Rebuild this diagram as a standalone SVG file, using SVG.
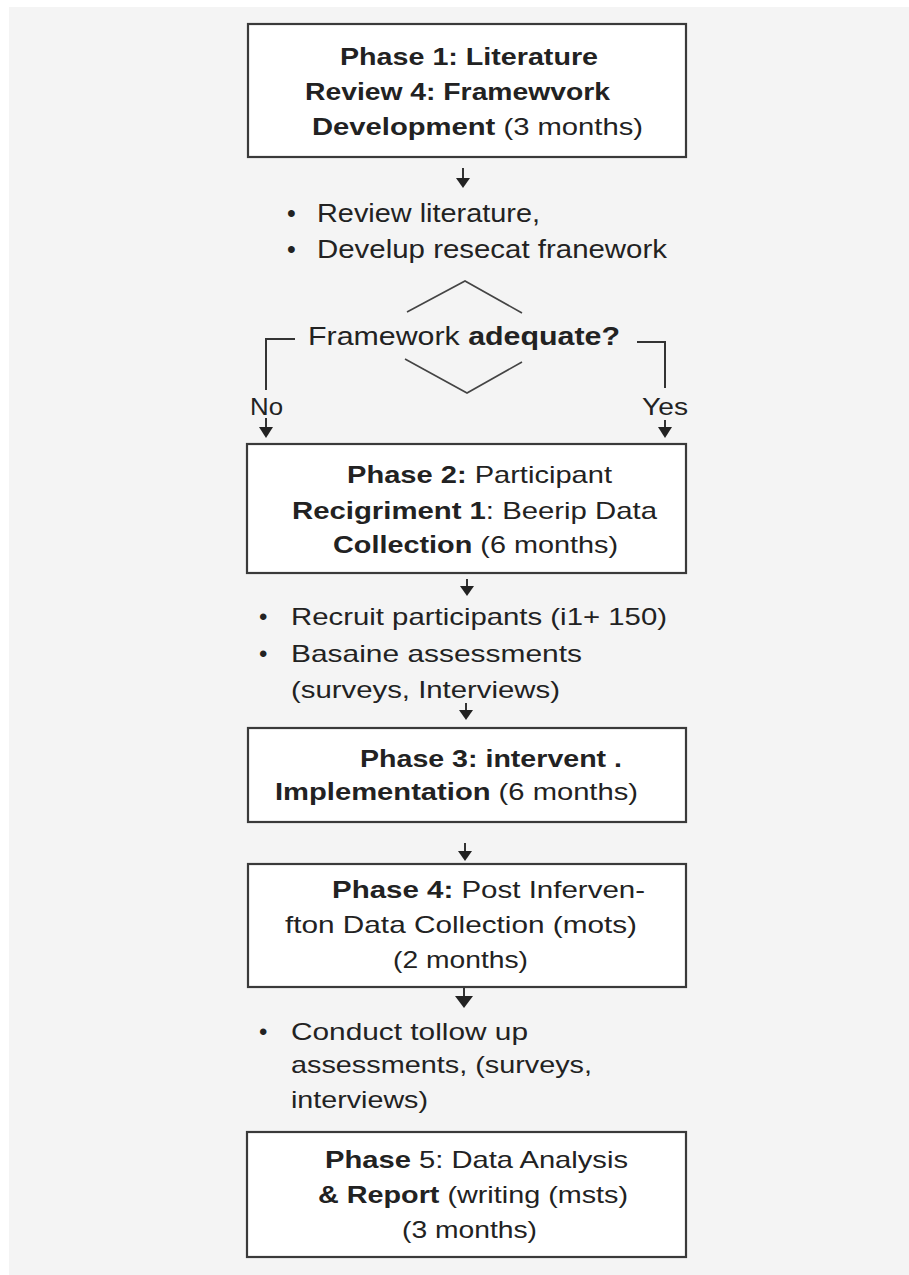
<svg xmlns="http://www.w3.org/2000/svg" width="909" height="1275" viewBox="0 0 909 1275">
<style>
text{font-family:"Liberation Sans",Arial,sans-serif;fill:#222;}
.t{font-size:24px;}
.b{font-weight:bold;}
.box{fill:#fff;stroke:#3a3a3a;stroke-width:2.2;}
.ln{fill:none;stroke:#333;stroke-width:2;}
.dm{fill:none;stroke:#444;stroke-width:1.6;}
.ah{fill:#222;}
</style>
<rect x="0" y="0" width="909" height="1275" fill="#ffffff"/>
<rect x="9" y="7" width="900" height="1268" fill="#f4f4f4"/>

<g id="connectors">
<path class="ln" d="M463,168 V180"/><path class="ah" d="M456,178 L470,178 L463,188 Z"/>
<path class="ln" d="M295,339 H266 V390"/>
<path class="ln" d="M266,418 V430"/><path class="ah" d="M259,427 L273,427 L266,438 Z"/>
<path class="ln" d="M637,342 H665 V388"/>
<path class="ln" d="M665,420 V430"/><path class="ah" d="M658,427 L672,427 L665,438 Z"/>
<path class="ln" d="M467,579 V588"/><path class="ah" d="M460,586 L474,586 L467,596 Z"/>
<path class="ln" d="M466,703 V712"/><path class="ah" d="M459,710 L473,710 L466,720 Z"/>
<path class="ln" d="M465,843 V853"/><path class="ah" d="M458,851 L472,851 L465,861 Z"/>
<path class="ln" d="M464,988 V998"/><path class="ah" d="M455,996 L473,996 L464,1008 Z"/>
</g>

<g id="phase1">
<rect class="box" x="248" y="24" width="438" height="133"/>
<text class="t b" x="340" y="65" textLength="258" lengthAdjust="spacingAndGlyphs">Phase 1: Literature</text>
<text class="t b" x="305" y="100" textLength="305" lengthAdjust="spacingAndGlyphs">Review 4: Framewvork</text>
<text class="t" x="312" y="135" textLength="331" lengthAdjust="spacingAndGlyphs"><tspan class="b">Development</tspan> (3 months)</text>
</g>

<g id="bullets1">
<text style="font-size:25px" x="287" y="222">•</text>
<text style="font-size:25px" x="317" y="222" textLength="223" lengthAdjust="spacingAndGlyphs">Review literature,</text>
<text style="font-size:25px" x="287" y="258">•</text>
<text style="font-size:25px" x="317" y="258" textLength="350" lengthAdjust="spacingAndGlyphs">Develup resecat franework</text>
</g>

<g id="decision">
<path class="dm" d="M407,312 L465,281 L522,313"/>
<path class="dm" d="M405,359 L467,393 L522,362"/>
<text style="font-size:25px" x="308" y="345" textLength="312" lengthAdjust="spacingAndGlyphs">Framework <tspan class="b">adequate?</tspan></text>
<text style="font-size:23px" x="250" y="415" textLength="33" lengthAdjust="spacingAndGlyphs">No</text>
<text style="font-size:23px" x="642" y="415" textLength="46" lengthAdjust="spacingAndGlyphs">Yes</text>
</g>

<g id="phase2">
<rect class="box" x="247" y="444" width="439" height="129"/>
<text class="t" x="347" y="483" textLength="265" lengthAdjust="spacingAndGlyphs"><tspan class="b">Phase 2:</tspan> Participant</text>
<text class="t" x="292" y="519" textLength="365" lengthAdjust="spacingAndGlyphs"><tspan class="b">Recigriment 1</tspan>: Beerip Data</text>
<text class="t" x="333" y="553" textLength="285" lengthAdjust="spacingAndGlyphs"><tspan class="b">Collection</tspan> (6 months)</text>
</g>

<g id="bullets2">
<text class="t" x="259" y="625">•</text>
<text class="t" x="291" y="625" textLength="376" lengthAdjust="spacingAndGlyphs">Recruit participants (i1+ 150)</text>
<text class="t" x="259" y="662">•</text>
<text class="t" x="291" y="662" textLength="291" lengthAdjust="spacingAndGlyphs">Basaine assessments</text>
<text class="t" x="291" y="698" textLength="269" lengthAdjust="spacingAndGlyphs">(surveys, Interviews)</text>
</g>

<g id="phase3">
<rect class="box" x="248" y="728" width="438" height="94"/>
<text class="t b" x="360" y="767" textLength="262" lengthAdjust="spacingAndGlyphs">Phase 3: intervent .</text>
<text class="t" x="275" y="800" textLength="363" lengthAdjust="spacingAndGlyphs"><tspan class="b">Implementation</tspan>  (6 months)</text>
</g>

<g id="phase4">
<rect class="box" x="248" y="864" width="438" height="123"/>
<text class="t" x="332" y="898" textLength="313" lengthAdjust="spacingAndGlyphs"><tspan class="b">Phase 4:</tspan> Post Inferven-</text>
<text class="t" x="285" y="933" textLength="352" lengthAdjust="spacingAndGlyphs">fton Data Collection (mots)</text>
<text class="t" x="393" y="968" textLength="135" lengthAdjust="spacingAndGlyphs">(2 months)</text>
</g>

<g id="bullets3">
<text class="t" x="259" y="1040">•</text>
<text class="t" x="291" y="1040" textLength="237" lengthAdjust="spacingAndGlyphs">Conduct tollow up</text>
<text class="t" x="291" y="1073" textLength="301" lengthAdjust="spacingAndGlyphs">assessments, (surveys,</text>
<text class="t" x="291" y="1108" textLength="137" lengthAdjust="spacingAndGlyphs">interviews)</text>
</g>

<g id="phase5">
<rect class="box" x="247" y="1132" width="439" height="125"/>
<text class="t" x="325" y="1168" textLength="303" lengthAdjust="spacingAndGlyphs"><tspan class="b">Phase</tspan> 5: Data Analysis</text>
<text class="t" x="318" y="1203" textLength="310" lengthAdjust="spacingAndGlyphs"><tspan class="b">&amp; Report</tspan> (writing (msts)</text>
<text class="t" x="402" y="1238" textLength="135" lengthAdjust="spacingAndGlyphs">(3 months)</text>
</g>
</svg>
